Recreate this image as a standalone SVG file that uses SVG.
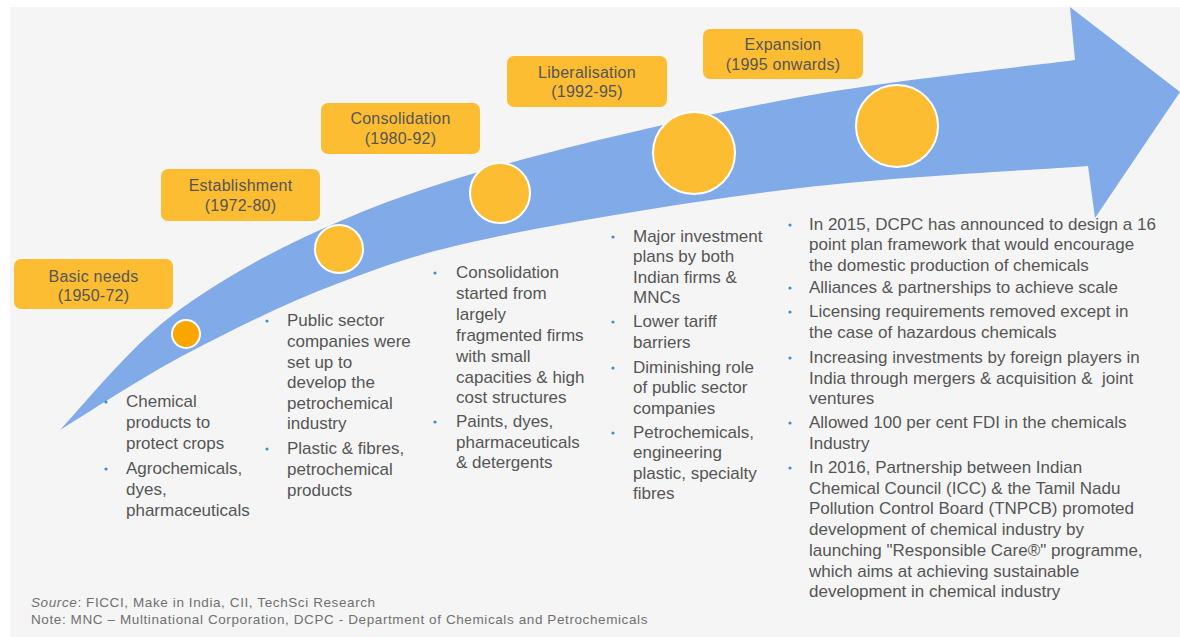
<svg xmlns="http://www.w3.org/2000/svg" width="1180" height="637" viewBox="0 0 1180 637">
<style>
.lbl{fill:#fdbd33}
.lt{font-family:"Liberation Sans",Arial,sans-serif;font-size:16px;fill:#555;text-anchor:middle;letter-spacing:0.25px}
.bt{font-family:"Liberation Sans",Arial,sans-serif;font-size:17px;fill:#555}
.dot{fill:#3b8fd6}
.cir{fill:#fdbd33;stroke:#ffffff;stroke-width:2}
.ft{font-family:"Liberation Sans",Arial,sans-serif;font-size:13.5px;fill:#707070;letter-spacing:0.6px}
</style>
<rect x="0" y="0" width="1180" height="637" fill="#ffffff"/>
<rect x="10" y="7" width="1170" height="630" fill="#f5f5f5"/>
<g id="connectors">
<path id="arrow" fill="#80aae8" d="M60,430 C78.3,411.2 126.7,350.3 170,317 C213.3,283.7 263.3,255.7 320,230 C376.7,204.3 430,185.2 510,163 C590,140.8 705.8,114.2 800,97 C894.2,79.8 1029.2,66.2 1075,60 L1070,7 L1180,92 L1095,218 L1088,166 C1040,169.7 898,176.3 800,188 C702,199.7 576.8,220.2 500,236 C423.2,251.8 391.3,263.3 339,283 C286.7,302.7 232.5,329.5 186,354 C139.5,378.5 81,417.3 60,430 Z"/>
</g>
<g id="stage1">
<rect class="lbl" x="14" y="259" width="159" height="50" rx="7"/>
<text class="lt" x="93.5" y="282">Basic needs</text>
<text class="lt" x="93.5" y="301">(1950-72)</text>
<circle cx="186" cy="334" r="14" fill="#fba600" stroke="#ffffff" stroke-width="2"/>
<circle class="dot" cx="106" cy="402" r="1.6"/>
<text class="bt" x="126" y="407">Chemical</text>
<text class="bt" x="126" y="428">products to</text>
<text class="bt" x="126" y="449">protect crops</text>
<circle class="dot" cx="106" cy="469" r="1.6"/>
<text class="bt" x="126" y="474">Agrochemicals,</text>
<text class="bt" x="126" y="495">dyes,</text>
<text class="bt" x="126" y="516">pharmaceuticals</text>
</g>
<g id="stage2">
<rect class="lbl" x="161" y="169" width="159" height="52" rx="7"/>
<text class="lt" x="240.5" y="191">Establishment</text>
<text class="lt" x="240.5" y="211">(1972-80)</text>
<circle class="cir" cx="339" cy="249" r="24"/>
<circle class="dot" cx="267" cy="321" r="1.6"/>
<text class="bt" x="287" y="326">Public sector</text>
<text class="bt" x="287" y="347">companies were</text>
<text class="bt" x="287" y="368">set up to</text>
<text class="bt" x="287" y="388">develop the</text>
<text class="bt" x="287" y="409">petrochemical</text>
<text class="bt" x="287" y="429">industry</text>
<circle class="dot" cx="267" cy="449" r="1.6"/>
<text class="bt" x="287" y="454">Plastic &amp; fibres,</text>
<text class="bt" x="287" y="475">petrochemical</text>
<text class="bt" x="287" y="496">products</text>
</g>
<g id="stage3">
<rect class="lbl" x="321" y="103" width="159" height="51" rx="7"/>
<text class="lt" x="400.5" y="124">Consolidation</text>
<text class="lt" x="400.5" y="144">(1980-92)</text>
<circle class="cir" cx="500" cy="193" r="30"/>
<circle class="dot" cx="435" cy="273" r="1.6"/>
<text class="bt" x="456" y="278">Consolidation</text>
<text class="bt" x="456" y="299">started from</text>
<text class="bt" x="456" y="320">largely</text>
<text class="bt" x="456" y="341">fragmented firms</text>
<text class="bt" x="456" y="362">with small</text>
<text class="bt" x="456" y="383">capacities &amp; high</text>
<text class="bt" x="456" y="403">cost structures</text>
<circle class="dot" cx="435" cy="422" r="1.6"/>
<text class="bt" x="456" y="427">Paints, dyes,</text>
<text class="bt" x="456" y="448">pharmaceuticals</text>
<text class="bt" x="456" y="468">&amp; detergents</text>
</g>
<g id="stage4">
<rect class="lbl" x="507" y="56" width="160" height="51" rx="7"/>
<text class="lt" x="587" y="78">Liberalisation</text>
<text class="lt" x="587" y="97">(1992-95)</text>
<circle class="cir" cx="694" cy="153" r="41"/>
<circle class="dot" cx="613" cy="237" r="1.6"/>
<text class="bt" x="633" y="242">Major investment</text>
<text class="bt" x="633" y="262">plans by both</text>
<text class="bt" x="633" y="283">Indian firms &amp;</text>
<text class="bt" x="633" y="303">MNCs</text>
<circle class="dot" cx="613" cy="322" r="1.6"/>
<text class="bt" x="633" y="327">Lower tariff</text>
<text class="bt" x="633" y="348">barriers</text>
<circle class="dot" cx="613" cy="368" r="1.6"/>
<text class="bt" x="633" y="373">Diminishing role</text>
<text class="bt" x="633" y="393">of public sector</text>
<text class="bt" x="633" y="414">companies</text>
<circle class="dot" cx="613" cy="433" r="1.6"/>
<text class="bt" x="633" y="438">Petrochemicals,</text>
<text class="bt" x="633" y="458">engineering</text>
<text class="bt" x="633" y="479">plastic, specialty</text>
<text class="bt" x="633" y="499">fibres</text>
</g>
<g id="stage5">
<rect class="lbl" x="703" y="29" width="160" height="50" rx="7"/>
<text class="lt" x="783" y="50">Expansion</text>
<text class="lt" x="783" y="70">(1995 onwards)</text>
<circle class="cir" cx="897" cy="126" r="41"/>
<circle class="dot" cx="790" cy="225" r="1.6"/>
<text class="bt" x="809" y="230">In 2015, DCPC has announced to design a 16</text>
<text class="bt" x="809" y="250">point plan framework that would encourage</text>
<text class="bt" x="809" y="271">the domestic production of chemicals</text>
<circle class="dot" cx="790" cy="288" r="1.6"/>
<text class="bt" x="809" y="293">Alliances &amp; partnerships to achieve scale</text>
<circle class="dot" cx="790" cy="312" r="1.6"/>
<text class="bt" x="809" y="317">Licensing requirements removed except in</text>
<text class="bt" x="809" y="338">the case of hazardous chemicals</text>
<circle class="dot" cx="790" cy="358" r="1.6"/>
<text class="bt" x="809" y="363">Increasing investments by foreign players in</text>
<text class="bt" x="809" y="384">India through mergers &amp; acquisition &amp;&#160; joint</text>
<text class="bt" x="809" y="404">ventures</text>
<circle class="dot" cx="790" cy="423" r="1.6"/>
<text class="bt" x="809" y="428">Allowed 100 per cent FDI in the chemicals</text>
<text class="bt" x="809" y="449">Industry</text>
<circle class="dot" cx="790" cy="468" r="1.6"/>
<text class="bt" x="809" y="473">In 2016, Partnership between Indian</text>
<text class="bt" x="809" y="494">Chemical Council (ICC) &amp; the Tamil Nadu</text>
<text class="bt" x="809" y="514">Pollution Control Board (TNPCB) promoted</text>
<text class="bt" x="809" y="535">development of chemical industry by</text>
<text class="bt" x="809" y="556">launching "Responsible Care®" programme,</text>
<text class="bt" x="809" y="577">which aims at achieving sustainable</text>
<text class="bt" x="809" y="597">development in chemical industry</text>
</g>
<g id="footer">
<text class="ft" x="31" y="607"><tspan font-style="italic">Source</tspan>: FICCI, Make in India, CII, TechSci Research</text>
<text class="ft" x="31" y="624">Note: MNC – Multinational Corporation, DCPC - Department of Chemicals and Petrochemicals</text>
</g>
</svg>
